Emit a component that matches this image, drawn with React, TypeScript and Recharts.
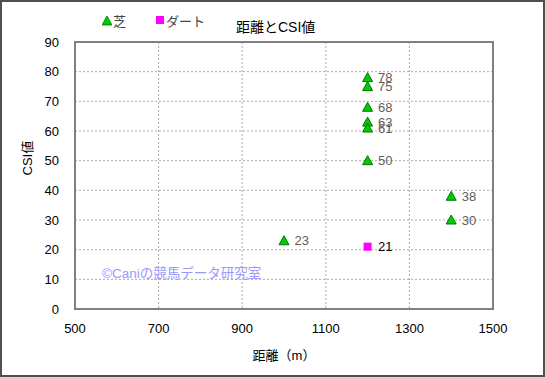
import React from "react";
import {
  ScatterChart,
  Scatter,
  XAxis,
  YAxis,
  CartesianGrid,
  ReferenceArea,
  LabelList,
} from "recharts";

const turfDistance = [1200, 1200, 1200, 1200, 1200, 1200, 1400, 1400, 1000];
const turfCSI = [78, 75, 68, 63, 61, 50, 38, 30, 23];
const dirtDistance = [1200];
const dirtCSI = [21];
const xTicks = [500, 700, 900, 1100, 1300, 1500];
const yTicks = [0, 10, 20, 30, 40, 50, 60, 70, 80, 90];

const turfData = turfDistance.map((x, i) => ({ x, y: turfCSI[i] }));
const dirtData = dirtDistance.map((x, i) => ({ x, y: dirtCSI[i] }));

const FONT = "'Liberation Sans', 'Noto Sans CJK JP', sans-serif";

const Triangle = (props: any) => {
  const { cx, cy } = props;
  if (cx == null || cy == null) return null;
  const s = 5;
  return (
    <path
      d={`M${cx},${cy - s} L${cx + s},${cy + s - 1} L${cx - s},${cy + s - 1} Z`}
      fill="#00cc00"
      stroke="#007700"
      strokeWidth={1}
    />
  );
};

const Square = (props: any) => {
  const { cx, cy } = props;
  if (cx == null || cy == null) return null;
  return <rect x={cx - 4} y={cy - 4} width={8} height={8} fill="#ff00ff" />;
};

export default function App() {
  return (
    <div
      style={{
        position: "absolute",
        left: 0,
        top: 0,
        width: 545,
        height: 377,
        boxSizing: "border-box",
        border: "2px solid #505050",
        background: "#fff",
        fontFamily: FONT,
      }}
    >
      <div style={{ position: "absolute", left: -2, top: -2 }}>
        <ScatterChart
          width={545}
          height={377}
          margin={{ top: 42, right: 52, bottom: 18, left: 25 }}
        >
          <CartesianGrid stroke="#aaaaaa" strokeDasharray="2 2" />
          <XAxis
            type="number"
            dataKey="x"
            domain={[500, 1500]}
            ticks={xTicks}
            height={50}
            tickLine={false}
            axisLine={{ stroke: "#808080", strokeWidth: 2 }}
            tick={{ fill: "#000", fontSize: 13, fontFamily: FONT }}
            tickMargin={9}
            label={{
              value: "距離（m）",
              position: "insideBottom",
              offset: -1,
              fill: "#000",
              fontSize: 13,
              fontFamily: FONT,
            }}
          />
          <YAxis
            type="number"
            dataKey="y"
            domain={[0, 90]}
            ticks={yTicks}
            width={50}
            tickLine={false}
            axisLine={{ stroke: "#808080", strokeWidth: 2 }}
            tick={{ fill: "#000", fontSize: 13, fontFamily: FONT }}
            tickMargin={10}
            label={{
              value: "CSI値",
              angle: -90,
              position: "insideLeft",
              offset: 2,
              fill: "#000",
              fontSize: 13,
              fontFamily: FONT,
            }}
          />
          <ReferenceArea
            x1={500}
            x2={1500}
            y1={0}
            y2={90}
            fill="none"
            stroke="#808080"
            strokeWidth={2}
          />
          <Scatter data={turfData} shape={Triangle} isAnimationActive={false}>
            <LabelList
              dataKey="y"
              position="right"
              offset={6}
              fill="#606060"
              fontSize={13}
              fontFamily={FONT}
            />
          </Scatter>
          <Scatter data={dirtData} shape={Square} isAnimationActive={false}>
            <LabelList
              dataKey="y"
              position="right"
              offset={6}
              fill="#000"
              fontSize={13}
              fontFamily={FONT}
            />
          </Scatter>
        </ScatterChart>
      </div>
      <div
        style={{
          position: "absolute",
          left: 100,
          top: 9,
          fontSize: 13,
          color: "#444",
          display: "flex",
          alignItems: "center",
          whiteSpace: "nowrap",
        }}
      >
        <svg width={10} height={10} style={{ marginRight: 1 }}>
          <path d="M5,0 L10,9 L0,9 Z" fill="#00cc00" stroke="#007700" strokeWidth={0.8} />
        </svg>
        <span>芝</span>
        <svg width={9} height={9} style={{ marginLeft: 30, marginRight: 1 }}>
          <rect x={0} y={0} width={8} height={8} fill="#ff00ff" />
        </svg>
        <span>ダート</span>
      </div>
      <div
        style={{
          position: "absolute",
          left: 234,
          top: 14,
          fontSize: 14,
          color: "#000",
          whiteSpace: "nowrap",
        }}
      >
        距離とCSI値
      </div>
      <div
        style={{
          position: "absolute",
          left: 100,
          top: 260,
          fontSize: 13.5,
          color: "#9999ff",
          whiteSpace: "nowrap",
        }}
      >
        ©Caniの競馬データ研究室
      </div>
    </div>
  );
}
